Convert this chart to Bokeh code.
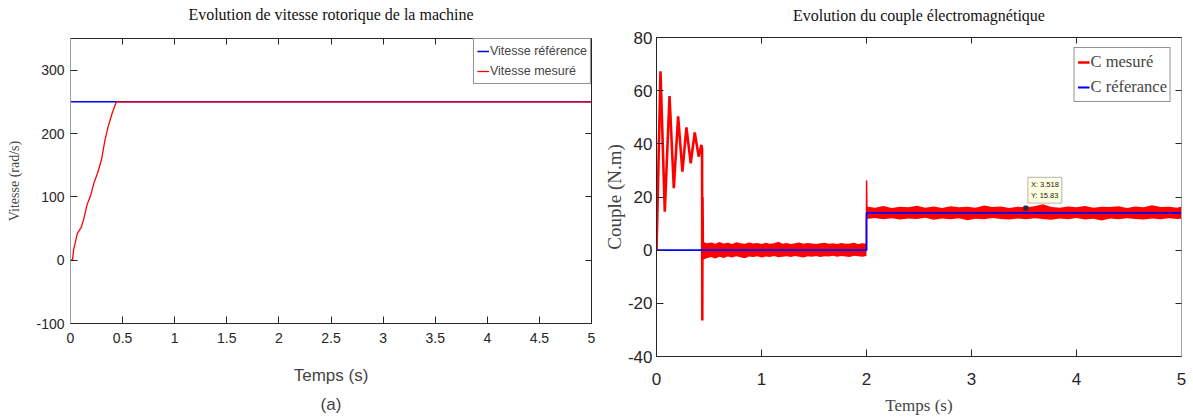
from bokeh.plotting import figure
from bokeh.models import (LinearAxis, FixedTicker, Title, Label, Legend, LegendItem, Range1d)
from bokeh.embed import file_html
from bokeh.resources import INLINE

# ---------------- data ----------------
# (a) speed
spd_ref_t = [0.0, 5.0]
spd_ref_v = [250.0, 250.0]
spd_mes_t = [0.0, 0.02, 0.029, 0.066, 0.103, 0.129, 0.158, 0.195, 0.225, 0.261,
             0.298, 0.331, 0.36, 0.40, 0.44, 5.0]
spd_mes_v = [0.0, 1.0, 15.9, 42.3, 51.9, 66.0, 87.0, 103.0, 122.0, 138.0,
             159.0, 190.0, 210.0, 232.0, 250.0, 250.0]
spd_xticks = [0, 0.5, 1, 1.5, 2, 2.5, 3, 3.5, 4, 4.5, 5]
spd_xlabels = ["0", "0.5", "1", "1.5", "2", "2.5", "3", "3.5", "4", "4.5", "5"]
spd_yticks = [-100, 0, 100, 200, 300]
spd_ylabels = ["-100", "0", "100", "200", "300"]
spd_title = "Evolution de vitesse rotorique de la machine"

# (b) torque
tq_tr_t = [0.0, 0.012, 0.038, 0.079, 0.124, 0.165, 0.206, 0.247, 0.285, 0.326, 0.364,
           0.402, 0.428, 0.434, 0.436, 0.438, 0.442]
tq_tr_v = [0.0, 20.0, 67.3, 14.5, 58.0, 23.3, 50.3, 29.5, 46.2, 32.7, 44.3,
           35.2, 39.6, 38.0, -26.5, 20.0, 0.0]
tq_b1_t = [0.44, 0.48, 0.52, 0.56, 0.60, 0.64, 0.68, 0.72, 0.76, 0.80, 0.84, 0.88, 0.92,
           0.96, 1.00, 1.04, 1.08, 1.12, 1.16, 1.20, 1.24, 1.28, 1.32, 1.36, 1.40, 1.44,
           1.48, 1.52, 1.56, 1.60, 1.64, 1.68, 1.72, 1.76, 1.80, 1.84, 1.88, 1.92, 1.96, 2.0]
tq_b1_hi = [3.2, 2.6, 2.9, 2.4, 3.1, 2.5, 2.8, 2.3, 3.0, 2.6, 2.4, 2.9, 2.5, 2.7, 2.3,
            2.8, 2.4, 2.6, 3.2, 2.4, 2.7, 2.3, 2.6, 2.9, 2.4, 2.7, 2.5, 2.3, 2.6, 2.8,
            2.4, 2.6, 2.3, 2.7, 2.4, 2.5, 2.8, 2.3, 2.6, 2.4]
tq_b1_lo = [-3.6, -3.0, -2.6, -3.1, -2.5, -2.9, -2.4, -2.8, -2.3, -2.7, -3.0, -2.4, -2.6,
            -2.3, -2.8, -2.4, -2.6, -2.2, -2.7, -2.5, -2.3, -2.6, -2.2, -2.5, -2.8, -2.3,
            -2.5, -2.2, -2.6, -2.3, -2.4, -2.1, -2.5, -2.2, -2.4, -2.6, -2.1, -2.3, -2.5, -2.2]
tq_b2_t = [2.0, 2.08, 2.16, 2.24, 2.32, 2.40, 2.48, 2.56, 2.64, 2.72, 2.80, 2.88, 2.96,
           3.04, 3.12, 3.20, 3.28, 3.36, 3.44, 3.52, 3.60, 3.68, 3.76, 3.84, 3.92, 4.00,
           4.08, 4.16, 4.24, 4.32, 4.40, 4.48, 4.56, 4.64, 4.72, 4.80, 4.88, 4.96, 5.0]
tq_b2_hi = [16.4, 16.0, 16.6, 15.9, 16.3, 16.1, 16.7, 16.0, 16.4, 15.9, 16.5, 16.1, 16.3,
            16.0, 16.8, 16.2, 16.4, 15.9, 16.3, 16.1, 16.5, 17.3, 16.2, 16.0, 16.4, 16.1,
            16.6, 16.0, 16.3, 16.2, 16.5, 15.9, 16.4, 16.1, 16.9, 16.2, 16.3, 16.0, 16.4]
tq_b2_lo = [11.7, 12.1, 11.6, 12.0, 11.5, 11.9, 11.7, 12.2, 11.4, 11.9, 11.6, 12.0, 11.3,
            11.8, 11.6, 12.1, 11.7, 11.5, 11.9, 11.6, 12.0, 11.7, 11.4, 11.9, 11.6, 12.1,
            11.5, 11.8, 11.2, 11.9, 11.6, 12.0, 11.7, 11.5, 11.9, 11.6, 12.0, 11.7, 11.8]
tq_sp_t = [1.999, 2.001, 2.004]
tq_sp_v = [0.0, 26.2, 14.0]
tq_ref_t = [0.0, 2.0, 2.0, 5.0]
tq_ref_v = [0.0, 0.0, 14.0, 14.0]
tq_xticks = [0, 1, 2, 3, 4, 5]
tq_yticks = [-40, -20, 0, 20, 40, 60, 80]
tq_ylabels = ["-40", "-20", "0", "20", "40", "60", "80"]
tq_title = "Evolution du couple électromagnétique"
tip_x, tip_y = 3.518, 15.83

SANS = "Liberation Sans"
SERIF = "Liberation Serif"
RED = "#ff0000"
BLUE = "#0000ff"
DARK = "#262626"


def box_axes(p, xt, yt, title, title_standoff):
    for side, ticks in (("above", xt), ("right", yt)):
        ax = LinearAxis(ticker=FixedTicker(ticks=ticks))
        ax.major_label_overrides = {float(t): "" for t in ticks}
        ax.major_label_text_font_size = "6px"
        ax.major_label_standoff = 0
        ax.major_tick_in = 6
        ax.major_tick_out = 0
        ax.minor_tick_line_color = None
        ax.axis_line_color = DARK
        ax.major_tick_line_color = DARK
        if side == "above":
            # the chart title, drawn as the label of the top (box) axis
            ax.axis_label = title
            ax.axis_label_text_font = SERIF
            ax.axis_label_text_font_size = "16px"
            ax.axis_label_text_font_style = "normal"
            ax.axis_label_text_color = "#111111"
            ax.axis_label_standoff = title_standoff
        p.add_layout(ax, side)
    return p.right[-1]


# ---------------- figure (a) ----------------
p1 = figure(width=600, height=420, x_range=Range1d(0, 5), y_range=Range1d(-100, 350),
            output_backend="svg", toolbar_location=None, title_location=None,
            min_border_left=70, min_border_right=9, min_border_top=38, min_border_bottom=97)
p1.xgrid.visible = False
p1.ygrid.visible = False
p1.outline_line_color = None

r_ref = p1.line(spd_ref_t, spd_ref_v, line_color=BLUE, line_width=1.5)
r_mes = p1.line(spd_mes_t, spd_mes_v, line_color=RED, line_width=1.3)

p1.xaxis.ticker = FixedTicker(ticks=spd_xticks)
p1.xaxis.major_label_overrides = {float(t): l for t, l in zip(spd_xticks, spd_xlabels)}
p1.yaxis.ticker = FixedTicker(ticks=spd_yticks)
p1.yaxis.major_label_overrides = {float(t): l for t, l in zip(spd_yticks, spd_ylabels)}
for ax in (p1.xaxis[0], p1.yaxis[0]):
    ax.major_label_text_font = SANS
    ax.major_label_text_font_size = "14px"
    ax.major_label_text_color = DARK
    ax.major_tick_in = 7
    ax.major_tick_out = 0
    ax.minor_tick_line_color = None
p1.xaxis.major_label_standoff = 9
p1.yaxis.major_label_standoff = 6
p1.xaxis.axis_line_color = DARK
p1.xaxis.major_tick_line_color = DARK
p1.yaxis.axis_line_color = "#a0a0a0"
p1.yaxis.major_tick_line_color = DARK
p1.xaxis.axis_label = "Temps (s)"
p1.xaxis.axis_label_text_font = SANS
p1.xaxis.axis_label_text_font_size = "17px"
p1.xaxis.axis_label_text_font_style = "normal"
p1.xaxis.axis_label_standoff = 20
p1.yaxis.axis_label = "Vitesse (rad/s)"
p1.yaxis.axis_label_text_font = SERIF
p1.yaxis.axis_label_text_font_size = "14px"
p1.yaxis.axis_label_text_font_style = "normal"
p1.yaxis.axis_label_standoff = 11
box_axes(p1, spd_xticks, spd_yticks, spd_title, 16)
p1.add_layout(Title(text="(a)", align="center", text_font=SANS, text_font_size="17px",
                    text_font_style="normal", standoff=10), "below")

leg1 = Legend(items=[LegendItem(label="Vitesse référence", renderers=[r_ref]),
                     LegendItem(label="Vitesse mesuré", renderers=[r_mes])],
              location="top_right", margin=0, padding=3, spacing=2,
              label_text_font=SANS, label_text_font_size="12.5px",
              glyph_width=12, glyph_height=18, label_standoff=1, label_height=18,
              border_line_color=DARK, border_line_width=1, background_fill_alpha=1)
p1.add_layout(leg1)

# ---------------- figure (b) ----------------
p2 = figure(width=593, height=420, x_range=Range1d(0, 5), y_range=Range1d(-40, 80),
            output_backend="svg", toolbar_location=None, title_location=None,
            min_border_left=55, min_border_right=12, min_border_top=37, min_border_bottom=64)
p2.xgrid.visible = False
p2.ygrid.visible = False
p2.outline_line_color = None

p2.varea(x=tq_b1_t, y1=tq_b1_lo, y2=tq_b1_hi, fill_color=RED)
p2.varea(x=tq_b2_t, y1=tq_b2_lo, y2=tq_b2_hi, fill_color=RED)
p2.line(tq_sp_t, tq_sp_v, line_color=RED, line_width=1.5)
r_cm = p2.line(tq_tr_t, tq_tr_v, line_color=RED, line_width=2.6)
r_cr = p2.line(tq_ref_t, tq_ref_v, line_color=BLUE, line_width=1.8)
p2.scatter([tip_x], [tip_y], marker="square", size=4, fill_color="#203040", line_color="#203040")
p2.add_layout(Label(x=tip_x, y=tip_y, x_offset=2, y_offset=5,
                    text="X: " + format(tip_x, "g") + "\nY: " + format(tip_y, "g"),
                    text_font=SANS, text_font_size="7.5px", text_color="#202020",
                    background_fill_color="#ffffe1", border_line_color="#b4b4b4",
                    padding=3))

p2.xaxis.ticker = FixedTicker(ticks=tq_xticks)
p2.yaxis.ticker = FixedTicker(ticks=tq_yticks)
p2.yaxis.major_label_overrides = {float(t): l for t, l in zip(tq_yticks, tq_ylabels)}
for ax in (p2.xaxis[0], p2.yaxis[0]):
    ax.major_label_text_font = SANS
    ax.major_label_text_font_size = "17px"
    ax.major_label_text_color = DARK
    ax.major_tick_in = 7
    ax.major_tick_out = 0
    ax.minor_tick_line_color = None
p2.xaxis.major_label_standoff = 16
p2.yaxis.major_label_standoff = 4
p2.xaxis.axis_line_color = DARK
p2.xaxis.major_tick_line_color = DARK
p2.yaxis.axis_line_color = DARK
p2.yaxis.major_tick_line_color = DARK
p2.xaxis.axis_label = "Temps (s)"
p2.xaxis.axis_label_text_font = SERIF
p2.xaxis.axis_label_text_font_size = "17px"
p2.xaxis.axis_label_text_font_style = "normal"
p2.xaxis.axis_label_standoff = 8
p2.yaxis.axis_label = "Couple (N.m)"
p2.yaxis.axis_label_text_font = SERIF
p2.yaxis.axis_label_text_font_size = "19px"
p2.yaxis.axis_label_text_font_style = "normal"
p2.yaxis.axis_label_standoff = 0
right2 = box_axes(p2, tq_xticks, tq_yticks, tq_title, 14)
right2.axis_line_color = "#a0a0a0"

leg2 = Legend(items=[LegendItem(label="C mesuré", renderers=[r_cm]),
                     LegendItem(label="C réferance", renderers=[r_cr])],
              location="top_right", margin=10, padding=3, spacing=3,
              label_text_font=SERIF, label_text_font_size="16.5px",
              glyph_width=12, glyph_height=22, label_standoff=1, label_height=22,
              border_line_color=DARK, border_line_width=1, background_fill_alpha=1)
p2.add_layout(leg2)

# two independent roots side by side (so that their frames are not aligned)
TEMPLATE = """
{% block contents %}
{% from macros import embed %}
<div style="display:flex;flex-direction:row;align-items:flex-start;">
{% for doc in docs %}{% for root in doc.roots %}{{ embed(root) }}{% endfor %}{% endfor %}
</div>
{% endblock %}
"""
open("out.html", "w").write(file_html([p1, p2], INLINE, template=TEMPLATE))
